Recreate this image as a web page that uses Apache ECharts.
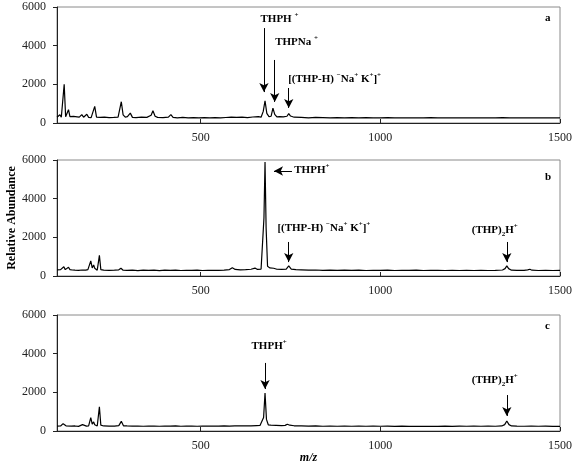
<!DOCTYPE html>
<html>
<head>
<meta charset="utf-8">
<script src="https://cdn.jsdelivr.net/npm/echarts@6/dist/echarts.min.js"></script>
<style>
  html, body { margin: 0; padding: 0; background: #fff; }
  #chart { width: 574px; height: 463px; }
</style>
</head>
<body>
<div id="chart"></div>
<script>
// m/z range and ticks
const mzMin = 100;
const mzMax = 1500;
const mzTicks = [500, 1000, 1500];
const abundanceTicks = [0, 2000, 4000, 6000];
const panelNames = ['a', 'b', 'c'];

// spectrum a : [m/z, abundance]
const spectrumA = [
  [100, 300], [104, 280], [108, 430], [112, 300], [116, 280], [120, 2000], [124, 320], [128, 300],
  [132, 690], [136, 330], [140, 290], [146, 340], [150, 290], [156, 320], [162, 300], [169, 430],
  [174, 300], [179, 310], [183, 450], [188, 290], [195, 280], [200, 330], [205, 860], [210, 300],
  [220, 290], [232, 300], [245, 280], [258, 290], [270, 300], [275, 380], [279, 1100], [284, 420],
  [290, 300], [296, 330], [304, 510], [310, 290], [320, 280], [335, 300], [350, 290], [362, 400],
  [367, 630], [373, 350], [380, 290], [395, 280], [410, 300], [417, 430], [423, 290], [435, 270],
  [450, 290], [465, 270], [480, 280], [495, 270], [510, 280], [525, 265], [540, 275], [555, 270],
  [570, 285], [585, 300], [600, 290], [615, 300], [630, 280], [645, 310], [660, 330], [668, 300],
  [674, 600], [679, 1150], [684, 500], [690, 330], [696, 350], [701, 770], [706, 450], [712, 320],
  [720, 330], [730, 320], [740, 350], [745, 480], [750, 360], [760, 300], [780, 290], [800, 270],
  [820, 290], [840, 280], [860, 260], [880, 280], [900, 270], [920, 280], [940, 260], [960, 275],
  [980, 270], [1000, 260], [1020, 275], [1040, 265], [1060, 270], [1080, 260], [1100, 270], [1120, 265],
  [1140, 275], [1160, 260], [1180, 270], [1200, 265], [1220, 270], [1240, 260], [1260, 270], [1280, 265],
  [1300, 270], [1320, 260], [1340, 275], [1360, 265], [1380, 270], [1400, 265], [1420, 270], [1440, 260],
  [1460, 268], [1480, 265], [1500, 262]
];

// spectrum b
const spectrumB = [
  [100, 320], [105, 310], [110, 330], [115, 300], [119, 480], [123, 330], [127, 320], [132, 450],
  [136, 330], [142, 310], [150, 300], [160, 290], [170, 310], [180, 300], [186, 330], [190, 310],
  [194, 780], [198, 420], [202, 570], [205, 400], [208, 480], [212, 300], [215, 310], [218, 1070],
  [222, 330], [230, 300], [245, 290], [260, 300], [272, 320], [278, 400], [284, 300], [295, 290],
  [310, 300], [325, 280], [340, 300], [355, 290], [370, 300], [385, 280], [400, 300], [415, 290],
  [430, 300], [445, 285], [460, 295], [475, 290], [490, 300], [505, 285], [520, 290], [535, 295],
  [550, 290], [565, 300], [580, 330], [588, 430], [596, 340], [610, 320], [625, 330], [640, 350],
  [651, 410], [658, 340], [668, 360], [673, 400], [676, 3000], [679, 5900], [682, 2500], [686, 500],
  [692, 420], [697, 480], [703, 400], [712, 350], [725, 340], [738, 360], [745, 520], [752, 360],
  [765, 330], [780, 320], [800, 300], [820, 310], [840, 295], [860, 305], [880, 290], [900, 300],
  [920, 290], [940, 300], [960, 285], [980, 295], [1000, 290], [1020, 300], [1040, 285], [1060, 295],
  [1080, 290], [1100, 300], [1120, 285], [1140, 295], [1160, 290], [1180, 285], [1200, 295], [1220, 285],
  [1240, 290], [1260, 285], [1280, 290], [1300, 285], [1320, 290], [1340, 310], [1347, 380], [1352, 520],
  [1357, 380], [1365, 300], [1380, 290], [1400, 295], [1410, 320], [1416, 350], [1422, 300], [1440, 285],
  [1460, 290], [1480, 285], [1500, 288]
];

// spectrum c
const spectrumC = [
  [100, 250], [105, 270], [110, 260], [113, 290], [117, 380], [120, 300], [125, 270], [130, 260],
  [140, 250], [150, 260], [160, 240], [165, 280], [171, 330], [176, 260], [182, 250], [188, 260],
  [191, 300], [194, 690], [198, 350], [202, 470], [205, 320], [208, 350], [212, 260], [215, 280],
  [218, 1250], [222, 300], [230, 260], [245, 250], [260, 255], [272, 280], [279, 500], [285, 270],
  [295, 260], [310, 250], [325, 255], [340, 245], [355, 255], [370, 250], [385, 245], [400, 255],
  [415, 250], [430, 260], [445, 245], [460, 255], [475, 250], [490, 245], [505, 255], [520, 250],
  [535, 255], [550, 250], [565, 260], [580, 255], [595, 265], [610, 260], [625, 270], [640, 265],
  [655, 280], [665, 290], [670, 300], [675, 700], [679, 1970], [683, 600], [688, 320], [695, 300],
  [710, 290], [725, 280], [735, 290], [741, 350], [748, 300], [760, 270], [780, 260], [800, 250],
  [820, 260], [840, 245], [860, 255], [880, 245], [900, 255], [920, 245], [940, 250], [960, 245],
  [980, 250], [1000, 245], [1020, 250], [1040, 240], [1060, 248], [1080, 242], [1100, 245], [1120, 240],
  [1140, 245], [1160, 240], [1180, 248], [1200, 242], [1220, 250], [1240, 245], [1260, 250], [1280, 245],
  [1300, 250], [1320, 245], [1338, 260], [1346, 330], [1352, 520], [1358, 330], [1365, 260], [1380, 250],
  [1400, 245], [1420, 250], [1440, 245], [1460, 250], [1480, 242], [1500, 240]
];

// arrows: [[x0, y0], [x1, y1]] in data units, head at the second point
const arrowsA = [
  [[676, 4910], [676, 1600]],
  [[706, 3260], [706, 1090]],
  [[745, 1810], [745, 780]]
];
const arrowsB = [
  [[754, 5430], [704, 5430]],
  [[745, 1760], [745, 720]],
  [[1352, 1760], [1352, 720]]
];
const arrowsC = [
  [[679, 3520], [679, 2170]],
  [[1352, 1860], [1352, 780]]
];

// labels: [x, y, rich text] (left-middle anchor)
const labelsA = [
  [665, 5380, '{b|THPH }{sup|+}'],
  [706, 4190, '{b|THPNa }{sup|+}'],
  [742, 2280, '{b|[(THP-H) }{sup|\u2212}{b|Na}{sup|+}{b| K}{sup|+}{b|]}{sup|+}'],
  [1457, 5430, '{b|a}']
];
const labelsB = [
  [759, 5480, '{b|THPH}{sup|+}'],
  [712, 2480, '{b|[(THP-H) }{sup|\u2212}{b|Na}{sup|+}{b| K}{sup|+}{b|]}{sup|+}'],
  [1253, 2380, '{b|(THP)}{sub|2}{b|H}{sup|+}'],
  [1457, 5120, '{b|b}']
];
const labelsC = [
  [640, 4400, '{b|THPH}{sup|+}'],
  [1253, 2640, '{b|(THP)}{sub|2}{b|H}{sup|+}'],
  [1457, 5430, '{b|c}']
];

const spectra = [spectrumA, spectrumB, spectrumC];
const arrows = [arrowsA, arrowsB, arrowsC];
const labels = [labelsA, labelsB, labelsC];

const serif = '"Liberation Serif", "DejaVu Serif", serif';
const gridTops = [7, 160, 315];

const richStyle = {
  b: { fontFamily: serif, fontWeight: 'bold', fontSize: 11, color: '#000', lineHeight: 15 },
  sup: { fontFamily: serif, fontWeight: 'bold', fontSize: 7, color: '#000', lineHeight: 8, verticalAlign: 'top' },
  sub: { fontFamily: serif, fontWeight: 'bold', fontSize: 7, color: '#000', lineHeight: 8, verticalAlign: 'bottom' }
};

const chart = echarts.init(document.getElementById('chart'), null, { renderer: 'canvas' });

const option = {
  animation: false,
  backgroundColor: '#fff',
  grid: gridTops.map(top => ({
    left: 57,
    right: 14,
    top: top,
    height: 116,
    outerBoundsMode: 'none',
    show: true,
    borderColor: '#8a8a8a',
    borderWidth: 1,
    backgroundColor: 'transparent'
  })),
  xAxis: gridTops.map((t, i) => ({
    type: 'value',
    gridIndex: i,
    min: mzMin,
    max: mzMax,
    name: i === 2 ? 'm/z' : '',
    nameLocation: 'middle',
    nameGap: 21,
    nameMoveOverlap: false,
    nameTextStyle: { fontFamily: serif, fontStyle: 'italic', fontWeight: 'bold', fontSize: 12, color: '#000' },
    axisLine: { show: true, lineStyle: { color: '#222', width: 1 } },
    axisTick: { show: true, inside: true, length: 4, customValues: mzTicks, lineStyle: { color: '#222' } },
    axisLabel: {
      customValues: mzTicks,
      formatter: v => String(v),
      fontFamily: serif, fontSize: 12, color: '#222', margin: 9
    },
    splitLine: { show: false }
  })),
  yAxis: gridTops.map((t, i) => ({
    type: 'value',
    gridIndex: i,
    min: abundanceTicks[0],
    max: abundanceTicks[abundanceTicks.length - 1],
    interval: 2000,
    name: i === 1 ? 'Relative Abundance' : '',
    nameLocation: 'middle',
    nameGap: 39,
    nameMoveOverlap: false,
    nameTextStyle: { fontFamily: serif, fontWeight: 'bold', fontSize: 12, color: '#000' },
    axisLine: { show: true, lineStyle: { color: '#222', width: 1 } },
    axisTick: { show: true, inside: false, length: 4, lineStyle: { color: '#222' } },
    axisLabel: {
      formatter: v => String(v),
      fontFamily: serif, fontSize: 12, color: '#222', margin: 11
    },
    splitLine: { show: false }
  })),
  series: spectra.map((data, i) => ({
    name: panelNames[i],
    type: 'line',
    xAxisIndex: i,
    yAxisIndex: i,
    data: data,
    showSymbol: false,
    symbol: 'none',
    silent: true,
    lineStyle: { color: '#000', width: 1.2 },
    markLine: {
      silent: true,
      symbol: ['none', 'arrow'],
      symbolSize: [7, 9],
      lineStyle: { color: '#000', width: 1, type: 'solid' },
      label: { show: false },
      data: arrows[i].map(a => [{ coord: a[0] }, { coord: a[1] }])
    },
    markPoint: {
      silent: true,
      symbol: 'circle',
      symbolSize: 1,
      itemStyle: { color: 'rgba(0,0,0,0)' },
      label: { show: true, position: 'right', distance: 0, rich: richStyle },
      data: labels[i].map(l => ({
        coord: [l[0], l[1]],
        label: { formatter: l[2] }
      }))
    }
  }))
};

chart.setOption(option);
</script>
</body>
</html>
